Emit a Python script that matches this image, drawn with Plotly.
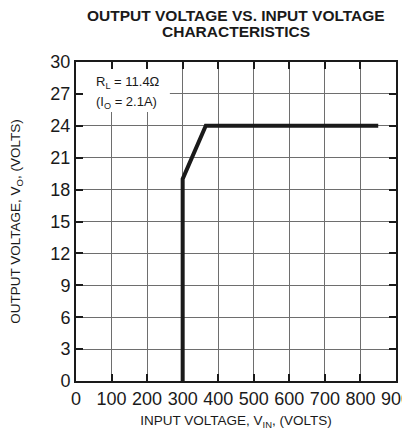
import plotly.graph_objects as go

vin = [300, 300, 365, 850]
vout = [0, 19, 24, 24]
x_ticks = [0, 100, 200, 300, 400, 500, 600, 700, 800, 900]
y_ticks = [0, 3, 6, 9, 12, 15, 18, 21, 24, 27, 30]

FONT = "Liberation Sans, Arial, sans-serif"
INK = "#1a1a1a"

fig = go.Figure()
fig.add_trace(go.Scatter(x=vin, y=vout, mode="lines",
                         line=dict(color=INK, width=4), showlegend=False))

axis_common = dict(
    showgrid=True, gridcolor="#6e6e6e", gridwidth=1,
    showline=True, linecolor=INK, linewidth=2, mirror="ticks",
    ticks="inside", ticklen=7, tickwidth=2, tickcolor=INK,
    zeroline=False, automargin=False,
    tickfont=dict(family=FONT, size=18, color=INK),
)

fig.update_xaxes(range=[0, 900], tickvals=x_ticks, ticktext=[str(v) for v in x_ticks],
                 title=dict(text="INPUT VOLTAGE, V<sub>IN</sub>, (VOLTS)",
                            font=dict(family=FONT, size=13.5, color=INK), standoff=8),
                 **axis_common)
fig.update_yaxes(range=[0, 30], tickvals=y_ticks, ticktext=[str(v) for v in y_ticks],
                 title=dict(text="OUTPUT VOLTAGE, V<sub>O</sub>, (VOLTS)",
                            font=dict(family=FONT, size=13.5, color=INK), standoff=30),
                 **axis_common)

# white panel behind the load annotation (above grid, below data)
fig.add_shape(type="rect", xref="x", yref="y", x0=0, x1=264, y0=25.3, y1=30,
              fillcolor="white", line=dict(width=0), layer="between")

fig.add_annotation(xref="paper", yref="paper", x=0.5, y=1, yshift=47, yanchor="middle",
                   text="<b>OUTPUT VOLTAGE VS. INPUT VOLTAGE</b>",
                   showarrow=False, font=dict(family=FONT, size=15.5, color=INK))
fig.add_annotation(xref="paper", yref="paper", x=0.5, y=1, yshift=30.5, yanchor="middle",
                   text="<b>CHARACTERISTICS</b>",
                   showarrow=False, font=dict(family=FONT, size=15.5, color=INK))

fig.add_annotation(xref="x", yref="y", x=50, y=28.1, xanchor="left", yanchor="middle",
                   text="R<sub>L</sub> = 11.4Ω", align="left", showarrow=False,
                   font=dict(family=FONT, size=13, color=INK))
fig.add_annotation(xref="x", yref="y", x=50, y=26.2, xanchor="left", yanchor="middle",
                   text="(I<sub>O</sub> = 2.1A)", align="left", showarrow=False,
                   font=dict(family=FONT, size=13, color=INK))

# page body adds an 8px offset, so margins are shifted by 8px
fig.update_layout(
    width=410, height=431,
    margin=dict(l=68, r=22, t=54, b=58),
    plot_bgcolor="white", paper_bgcolor="white",
    font=dict(family=FONT, color=INK),
)

fig.write_html("out.html")
